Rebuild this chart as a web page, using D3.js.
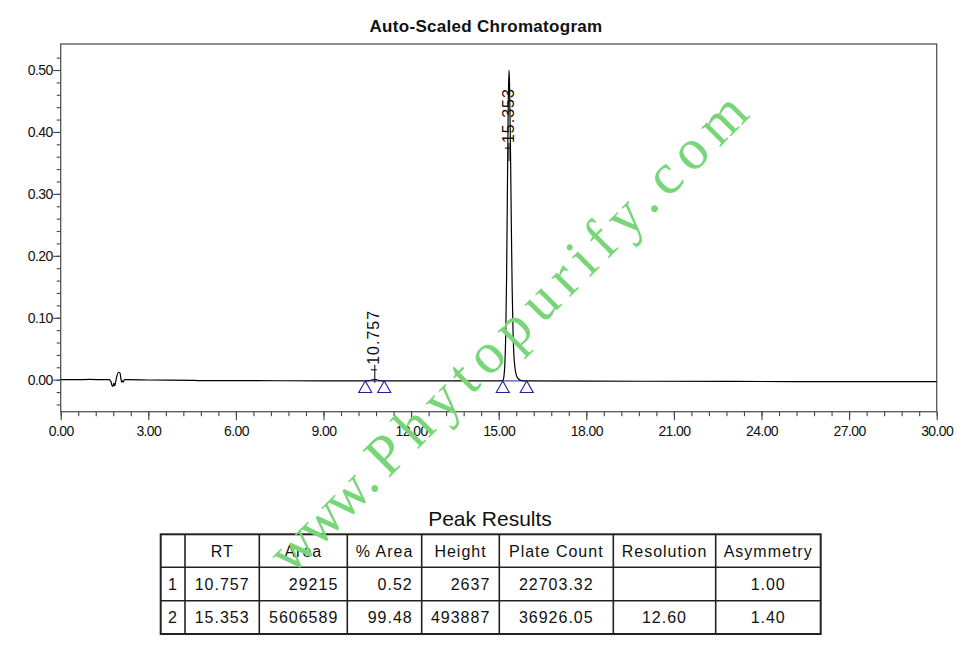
<!DOCTYPE html>
<html>
<head>
<meta charset="utf-8">
<script src="https://cdn.jsdelivr.net/npm/d3@7"></script>
<style>
  body { margin: 0; background: #fff; }
  svg { display: block; }
</style>
</head>
<body>
<div id="chart"></div>
<script>
// Chromatogram trace (minutes, AU)
const traceTime = [0.00, 0.50, 1.00, 1.50, 1.66, 1.72, 1.77, 1.80, 1.82, 1.85, 1.88, 1.93, 1.98, 2.03, 2.06, 2.09, 2.11, 2.14, 2.18, 2.30,
  3.00, 4.50, 4.70, 6.00, 9.00, 10.40, 10.55, 10.65, 10.72, 10.757, 10.80, 10.88, 11.00, 11.10,
  15.00, 15.10, 15.15, 15.18, 15.21, 15.24, 15.27, 15.30, 15.33, 15.353, 15.37, 15.40, 15.43, 15.46, 15.49, 15.52, 15.56, 15.60, 15.66, 15.75, 15.96,
  20.00, 25.00, 30.00];
const traceAU = [0.000, 0.000, 0.0005, 0.000, 0.000, -0.003, -0.011, -0.009, -0.006, -0.010, -0.004, 0.007, 0.012, 0.011, 0.002, -0.004, -0.002, -0.004, 0.000, 0.000,
  -0.0005, -0.001, -0.0015, -0.0015, -0.002, -0.002, -0.0015, -0.0005, 0.0002, 0.0006, 0.000, -0.0012, -0.0018, -0.002,
  -0.002, -0.002, -0.001, 0.006, 0.024, 0.070, 0.165, 0.315, 0.455, 0.500, 0.480, 0.385, 0.260, 0.150, 0.080, 0.040, 0.018, 0.008, 0.002, -0.001, -0.002,
  -0.0025, -0.003, -0.003];

// Integrated peaks
const peakRT = [10.757, 15.353];
const peakStart = [10.43, 15.14];
const peakEnd = [11.08, 15.96];
const peakBase = [-0.002, -0.002];

// Axis ticks
const xMajor = [0, 3, 6, 9, 12, 15, 18, 21, 24, 27, 30];
const xMinor = d3.range(0, 30.01, 0.6);
const yMajor = [0.00, 0.10, 0.20, 0.30, 0.40, 0.50];
const yMinor = d3.range(-0.04, 0.53, 0.02);

// Peak Results table
const tableHeaders = ["", "RT", "Area", "% Area", "Height", "Plate Count", "Resolution", "Asymmetry"];
const peakNo = ["1", "2"];
const rtCol = ["10.757", "15.353"];
const areaCol = ["29215", "5606589"];
const pctAreaCol = ["0.52", "99.48"];
const heightCol = ["2637", "493887"];
const plateCol = ["22703.32", "36926.05"];
const resolutionCol = ["", "12.60"];
const asymmetryCol = ["1.00", "1.40"];

const W = 971, H = 666;
const sans = "'Liberation Sans', Arial, sans-serif";
const plot = { left: 60.7, right: 936.7, top: 44, bottom: 411.7 };

const svg = d3.select("#chart").append("svg")
  .attr("width", W).attr("height", H)
  .attr("viewBox", `0 0 ${W} ${H}`);

const x = d3.scaleLinear().domain([0, 30]).range([plot.left, plot.right]);
const y = d3.scaleLinear().domain([-0.0517, 0.542]).range([plot.bottom, plot.top]);

// Title
svg.append("text")
  .attr("x", 486).attr("y", 31.7)
  .attr("text-anchor", "middle")
  .attr("font-family", sans).attr("font-size", 17).attr("font-weight", "bold")
  .attr("letter-spacing", 0.3)
  .attr("fill", "#111")
  .text("Auto-Scaled Chromatogram");

// X axis: minor then major ticks
const fmt = d3.format(".2f");
const xMinorG = svg.append("g")
  .attr("transform", `translate(0,${plot.bottom})`)
  .call(d3.axisBottom(x).tickValues(xMinor).tickSize(4.5).tickFormat(""));
const xMajorG = svg.append("g")
  .attr("transform", `translate(0,${plot.bottom})`)
  .call(d3.axisBottom(x).tickValues(xMajor).tickSize(8.5).tickPadding(5.5).tickFormat(fmt));

// Y axis
const yMinorG = svg.append("g")
  .attr("transform", `translate(${plot.left},0)`)
  .call(d3.axisLeft(y).tickValues(yMinor).tickSize(4).tickFormat(""));
const yMajorG = svg.append("g")
  .attr("transform", `translate(${plot.left},0)`)
  .call(d3.axisLeft(y).tickValues(yMajor).tickSize(7.5).tickPadding(0.5).tickFormat(fmt));

[xMinorG, xMajorG, yMinorG, yMajorG].forEach(g => {
  g.select(".domain").remove();
  g.selectAll(".tick line").attr("stroke", "#444").attr("stroke-width", 1.1);
  g.attr("font-family", sans).attr("font-size", 14);
  g.selectAll("text").attr("fill", "#111").attr("letter-spacing", -0.6);
});

// Plot frame
svg.append("rect")
  .attr("x", plot.left).attr("y", plot.top)
  .attr("width", plot.right - plot.left).attr("height", plot.bottom - plot.top)
  .attr("fill", "none").attr("stroke", "#555").attr("stroke-width", 1.3);

// Trace
const trace = traceTime.map((t, i) => [t, traceAU[i]]);
svg.append("path")
  .datum(trace)
  .attr("fill", "none")
  .attr("stroke", "#000")
  .attr("stroke-width", 1.2)
  .attr("stroke-linejoin", "round")
  .attr("d", d3.line().x(d => x(d[0])).y(d => y(d[1])).curve(d3.curveMonotoneX));

// Baselines and start/end triangles
const navy = "#22229a";
svg.append("g").selectAll("line")
  .data(peakRT.map((rt, i) => i))
  .join("line")
  .attr("x1", i => x(peakStart[i])).attr("x2", i => x(peakEnd[i]))
  .attr("y1", i => y(peakBase[i])).attr("y2", i => y(peakBase[i]))
  .attr("stroke", navy).attr("stroke-width", 1);

const marks = [];
peakRT.forEach((rt, i) => {
  marks.push({ t: peakStart[i], v: peakBase[i] });
  marks.push({ t: peakEnd[i], v: peakBase[i] });
});
svg.append("g").selectAll("path")
  .data(marks)
  .join("path")
  .attr("d", d => `M${x(d.t)},${y(d.v)} l-6.5,11.6 h13 z`)
  .attr("fill", "none").attr("stroke", navy).attr("stroke-width", 1.1);

// Peak labels (rotated) with their little marker
const labelAt = [0.024, 0.382];
const labels = svg.append("g").selectAll("g")
  .data(peakRT.map((rt, i) => ({ rt, v: labelAt[i] })))
  .join("g");

labels.append("line")
  .attr("x1", d => x(d.rt)).attr("x2", d => x(d.rt))
  .attr("y1", d => y(d.v)).attr("y2", d => y(d.v) + 18)
  .attr("stroke", "#000").attr("stroke-width", 1);
labels.append("line")
  .attr("x1", d => x(d.rt) - 4).attr("x2", d => x(d.rt) + 2)
  .attr("y1", d => y(d.v) + 5).attr("y2", d => y(d.v) + 5)
  .attr("stroke", "#000").attr("stroke-width", 1);
labels.append("text")
  .attr("transform", d => `translate(${x(d.rt) + 4.5},${y(d.v)}) rotate(-90)`)
  .attr("font-family", sans).attr("font-size", 16)
  .attr("letter-spacing", 1)
  .attr("fill", "#111")
  .text(d => d.rt.toFixed(3));

// Peak Results table
svg.append("text")
  .attr("x", 490).attr("y", 526)
  .attr("text-anchor", "middle")
  .attr("font-family", sans).attr("font-size", 21)
  .attr("fill", "#111")
  .text("Peak Results");

const colEdges = [160.7, 185, 259.3, 347.3, 421.7, 499.3, 613.3, 715.7, 820.7];
const rowEdges = [534.3, 567.3, 600.7, 634];
const colAlign = ["middle", "middle", "end", "end", "end", "middle", "middle", "middle"];
const columns = [peakNo, rtCol, areaCol, pctAreaCol, heightCol, plateCol, resolutionCol, asymmetryCol];

const table = svg.append("g")
  .attr("font-family", sans).attr("font-size", 16)
  .attr("letter-spacing", 1).attr("fill", "#111");

// grid
table.selectAll("line.v")
  .data(colEdges.slice(1, -1))
  .join("line").attr("class", "v")
  .attr("x1", d => d).attr("x2", d => d)
  .attr("y1", rowEdges[0]).attr("y2", rowEdges[rowEdges.length - 1])
  .attr("stroke", "#222").attr("stroke-width", 1.6);
table.selectAll("line.h")
  .data(rowEdges.slice(1, -1))
  .join("line").attr("class", "h")
  .attr("x1", colEdges[0]).attr("x2", colEdges[colEdges.length - 1])
  .attr("y1", d => d).attr("y2", d => d)
  .attr("stroke", "#222").attr("stroke-width", 1.6);
table.append("rect")
  .attr("x", colEdges[0]).attr("y", rowEdges[0])
  .attr("width", colEdges[colEdges.length - 1] - colEdges[0])
  .attr("height", rowEdges[rowEdges.length - 1] - rowEdges[0])
  .attr("fill", "none").attr("stroke", "#222").attr("stroke-width", 2);

// header text
table.selectAll("text.hd")
  .data(tableHeaders)
  .join("text").attr("class", "hd")
  .attr("x", (d, i) => (colEdges[i] + colEdges[i + 1]) / 2)
  .attr("y", (rowEdges[0] + rowEdges[1]) / 2)
  .attr("dy", "0.36em")
  .attr("text-anchor", "middle")
  .text(d => d);

// body text
const cells = [];
columns.forEach((col, c) => col.forEach((v, r) => cells.push({ v, c, r })));
table.selectAll("text.cell")
  .data(cells)
  .join("text").attr("class", "cell")
  .attr("x", d => colAlign[d.c] === "end" ? colEdges[d.c + 1] - 9 : (colEdges[d.c] + colEdges[d.c + 1]) / 2)
  .attr("y", d => (rowEdges[d.r + 1] + rowEdges[d.r + 2]) / 2)
  .attr("dy", "0.36em")
  .attr("text-anchor", d => colAlign[d.c])
  .text(d => d.v);

// Watermark
const wm = svg.append("text")
  .attr("transform", "translate(291,576) rotate(-45)")
  .attr("font-family", "'Liberation Serif', 'Times New Roman', serif")
  .attr("font-size", 58)
  .attr("fill", "#78d678");
wm.append("tspan").attr("letter-spacing", -4).text("www");
wm.append("tspan").attr("letter-spacing", 9).text(".Phytopurify.com");
</script>
</body>
</html>
